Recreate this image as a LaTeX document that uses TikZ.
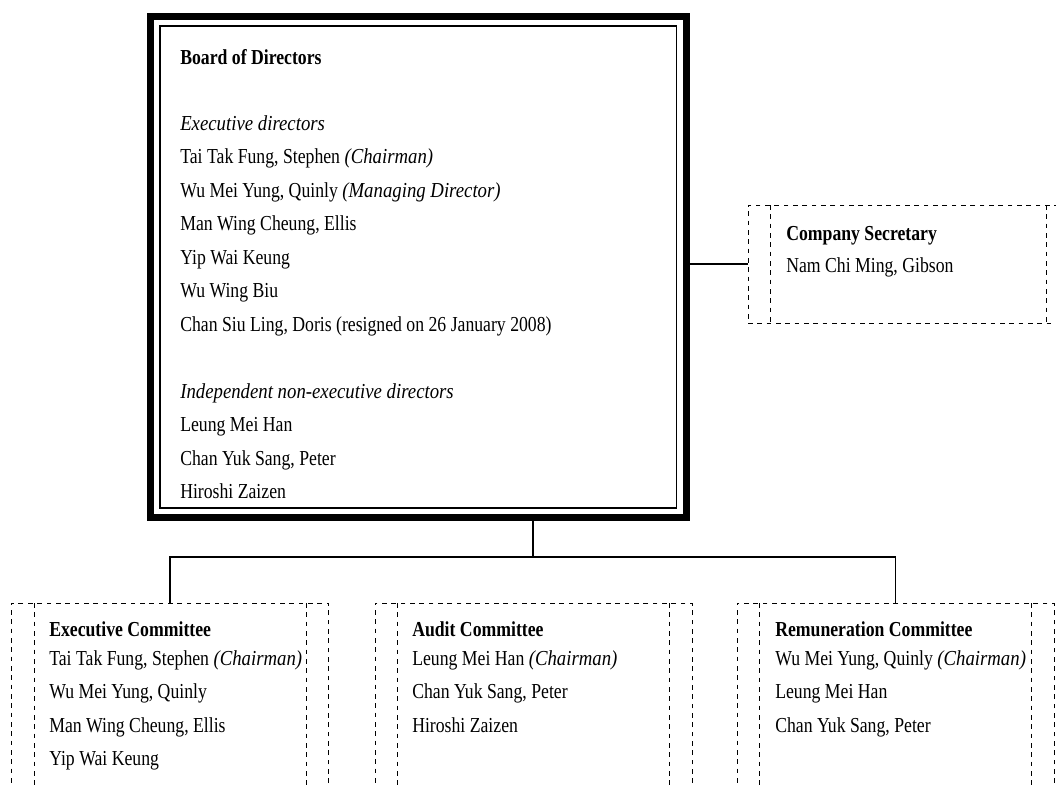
\documentclass[tikz,border=0pt]{standalone}
\usepackage{fontspec}
\setmainfont{Liberation Serif}[FakeStretch=0.83,ItalicFeatures={FakeStretch=0.88}]
\begin{document}
\begin{tikzpicture}[x=0.75pt,y=-0.75pt,
  txt/.style={anchor=base west, inner sep=0pt, font=\fontsize{16}{18}\selectfont},
  hd/.style={txt, font=\fontsize{16}{18}\selectfont\bfseries},
  dbox/.style={draw, dash pattern=on 3.5pt off 3.5pt, line width=0.6pt, rectangle, inner sep=0pt, outer sep=0pt},
  dline/.style={dash pattern=on 3.5pt off 3.5pt, line width=0.6pt},
  conn/.style={line width=0.8pt}]
\clip (0,0) rectangle (1056,786);
% Board of directors
\node[draw, rectangle, line width=5.25pt, inner sep=0pt, minimum width={536*0.75pt}, minimum height={501*0.75pt}] (board) at (418.5,267) {};
\node[draw, rectangle, line width=1.3pt, inner sep=0pt, minimum width={516.5*0.75pt}, minimum height={482*0.75pt}] (boardin) at (418.25,267) {};
\node[hd] (b0) at (180,64) {Board of Directors};
\node[txt] (b1) at (180,130) {\textit{Executive directors}};
\node[txt] (b2) at (180,163.5) {Tai Tak Fung, Stephen \textit{(Chairman)}};
\node[txt] (b3) at (180,197) {Wu Mei Yung, Quinly \textit{(Managing Director)}};
\node[txt] (b4) at (180,230.5) {Man Wing Cheung, Ellis};
\node[txt] (b5) at (180,264) {Yip Wai Keung};
\node[txt] (b6) at (180,297.5) {Wu Wing Biu};
\node[txt] (b7) at (180,331) {Chan Siu Ling, Doris (resigned on 26 January 2008)};
\node[txt] (b8) at (180,398) {\textit{Independent non-executive directors}};
\node[txt] (b9) at (180,431.5) {Leung Mei Han};
\node[txt] (b10) at (180,465) {Chan Yuk Sang, Peter};
\node[txt] (b11) at (180,498.5) {Hiroshi Zaizen};
% Company secretary
\node[dbox, minimum width={320.5*0.75pt}, minimum height={118*0.75pt}] (sec) at (908.25,264) {};
\draw[dline] ([xshift={22.5*0.75pt}]sec.north west) -- ([xshift={22.5*0.75pt}]sec.south west);
\draw[dline] ([xshift={-22.5*0.75pt}]sec.north east) -- ([xshift={-22.5*0.75pt}]sec.south east);
\node[hd] (s0) at (786,240) {Company Secretary};
\node[txt] (s1) at (786,272) {Nam Chi Ming, Gibson};
% Committees
\node[dbox, minimum width={317*0.75pt}, minimum height={227*0.75pt}] (exec) at (170,716.5) {};
\node[dbox, minimum width={317*0.75pt}, minimum height={227*0.75pt}] (audit) at (533.5,716.5) {};
\node[dbox, minimum width={317*0.75pt}, minimum height={227*0.75pt}] (rem) at (895.5,716.5) {};
\foreach \b in {exec,audit,rem}{
  \draw[dline] ([xshift={22.5*0.75pt}]\b.north west) -- ([xshift={22.5*0.75pt}]\b.south west);
  \draw[dline] ([xshift={-22.5*0.75pt}]\b.north east) -- ([xshift={-22.5*0.75pt}]\b.south east);
}
\node[hd] (e0) at (49,636) {Executive Committee};
\node[txt] (e1) at (49,665) {Tai Tak Fung, Stephen \textit{(Chairman)}};
\node[txt] (e2) at (49,698.5) {Wu Mei Yung, Quinly};
\node[txt] (e3) at (49,732) {Man Wing Cheung, Ellis};
\node[txt] (e4) at (49,765.5) {Yip Wai Keung};
\node[hd] (a0) at (412,636) {Audit Committee};
\node[txt] (a1) at (412,665) {Leung Mei Han \textit{(Chairman)}};
\node[txt] (a2) at (412,698.5) {Chan Yuk Sang, Peter};
\node[txt] (a3) at (412,732) {Hiroshi Zaizen};
\node[hd] (r0) at (775,636) {Remuneration Committee};
\node[txt] (r1) at (775,665) {Wu Mei Yung, Quinly \textit{(Chairman)}};
\node[txt] (r2) at (775,698.5) {Leung Mei Han};
\node[txt] (r3) at (775,732) {Chan Yuk Sang, Peter};
% Connectors
\coordinate (j) at (533,557);
\draw[conn] (board.south -| j) -- (j);
\draw[conn] (exec.north) -- (exec.north |- j) -- (rem.north |- j) -- (rem.north);
\draw[conn] (board.east |- sec.west) -- (sec.west);
\end{tikzpicture}
\end{document}
